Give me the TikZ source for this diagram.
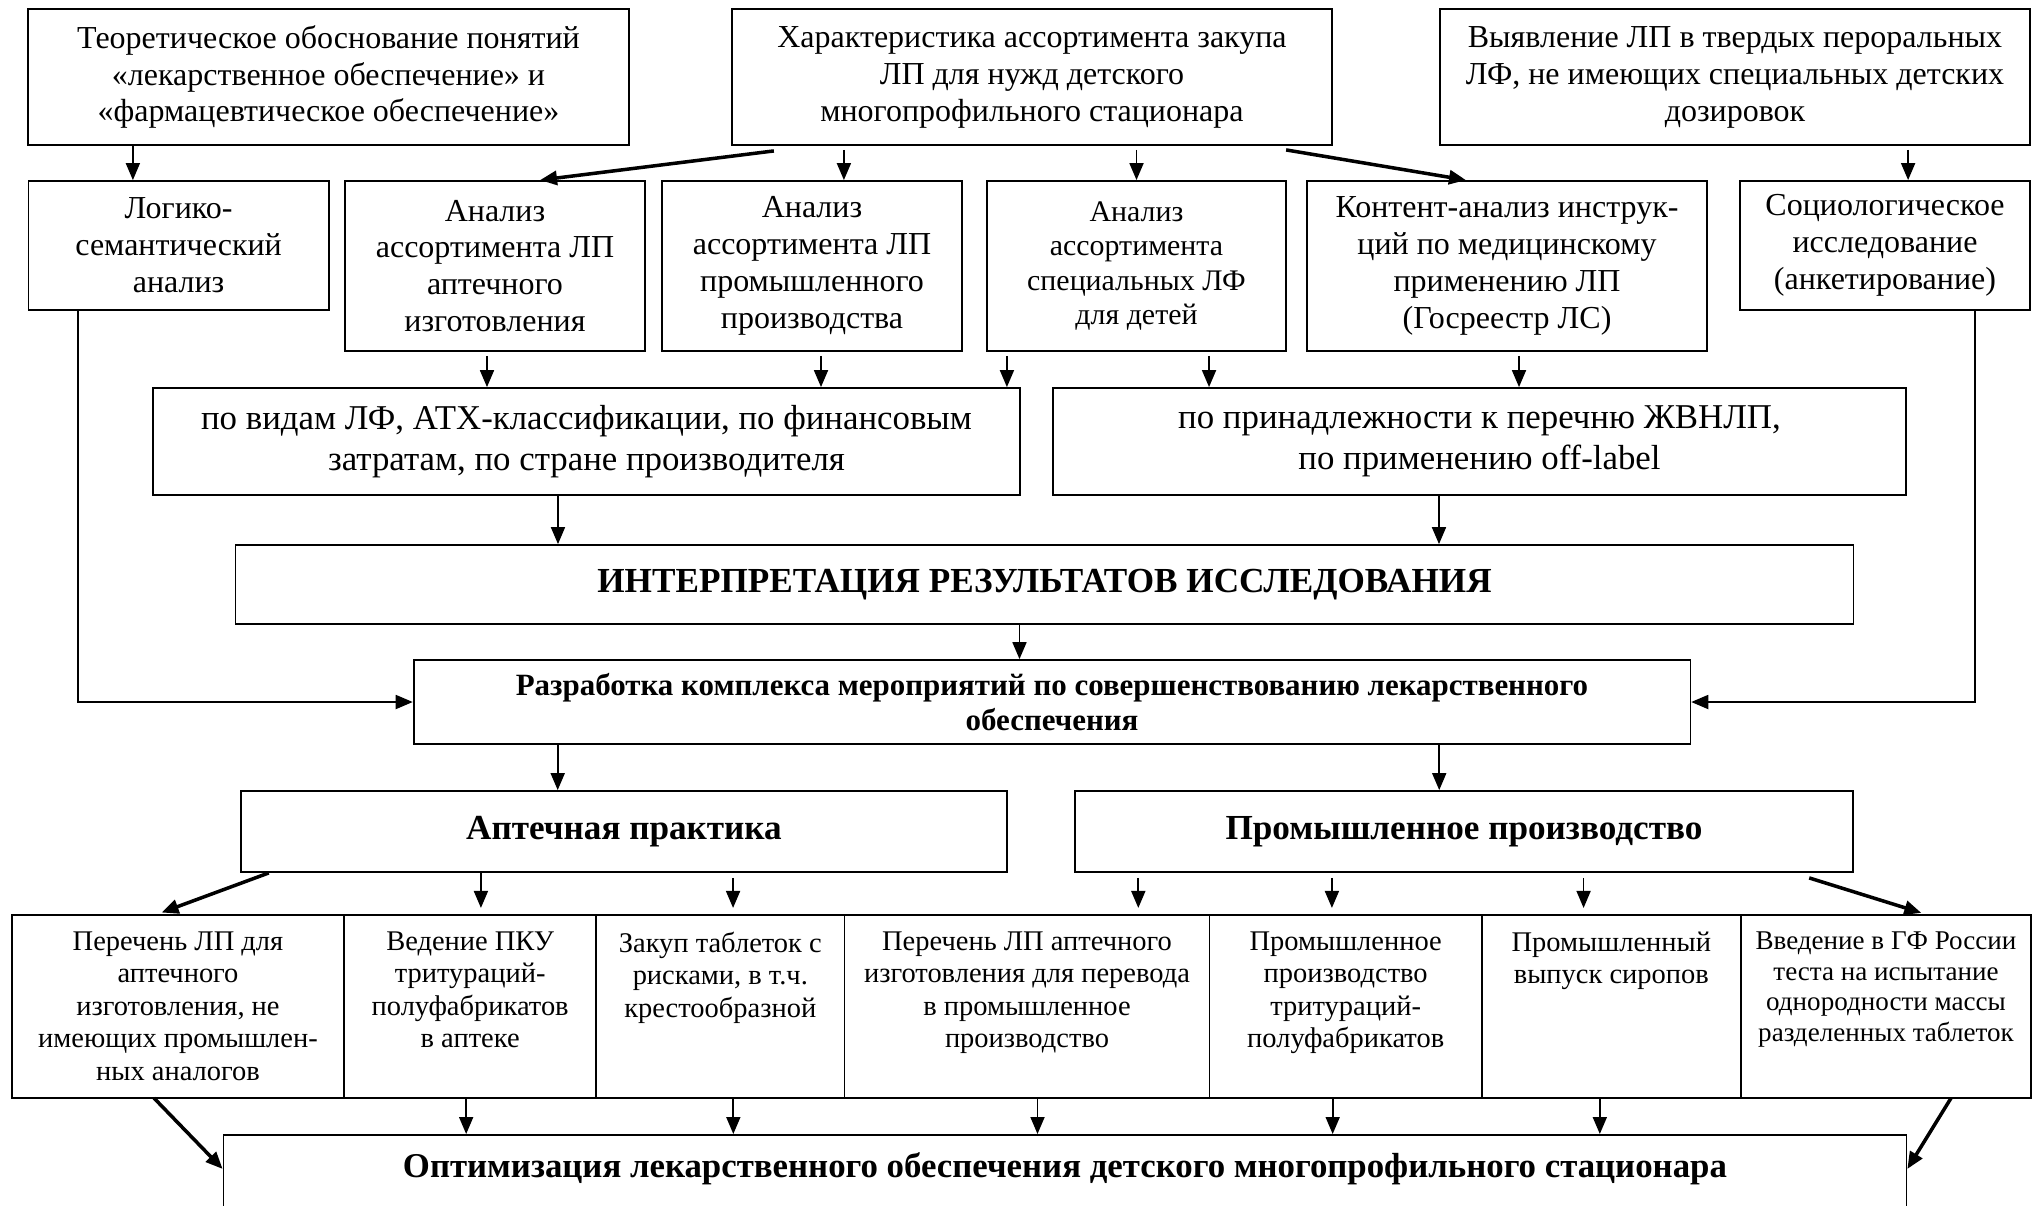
\documentclass[tikz,border=0pt]{standalone}
\usepackage{fontspec}
\setmainfont{Liberation Serif}
\usetikzlibrary{positioning, arrows.meta}

\newcommand{\tabtext}[2]{\parbox[t][1.49cm][t]{#1}{\centering #2}}

\begin{document}
\begin{tikzpicture}[
    x=0.01cm, y=-0.01cm,
    box/.style={draw, line width=0.5pt, align=center, inner sep=2pt, font=\fontsize{9.1}{10.5}\selectfont},
    smallbox/.style={box, font=\fontsize{8.5}{9.7}\selectfont},
    bigbox/.style={box, font=\fontsize{9.9}{11.5}\selectfont},
    head/.style={box, font=\fontsize{10}{11.5}\selectfont\bfseries},
    cell/.style={draw, line width=0.5pt, inner sep=0pt, outer sep=0pt, minimum height=1.83cm, font=\fontsize{8.1}{9.2}\selectfont},
    arrow/.style={-{Stealth[length=1.7mm, width=1.4mm, inset=0pt]}, line width=0.5pt},
    slant/.style={arrow, line width=1pt},
    gap/.style={shorten >=0.07cm}
  ]

  \useasboundingbox (0,0) rectangle (2033,1205);
  \fill[white] (0,0) rectangle (2033,1205);

  % верхний ряд
  \node[box, minimum width=6cm, minimum height=1.36cm] (teor) at (328.5,77) {Теоретическое обоснование понятий\\«лекарственное обеспечение» и\\«фармацевтическое обеспечение»};
  \node[box, minimum width=6cm, minimum height=1.36cm] (harakt) at (1032,77) {Характеристика ассортимента закупа\\ЛП для нужд детского\\многопрофильного стационара};
  \node[box, minimum width=5.9cm, minimum height=1.36cm] (vyyav) at (1735,77) {Выявление ЛП в твердых пероральных\\ЛФ, не имеющих специальных детских\\дозировок};

  % методы анализа
  \node[box, minimum width=3cm, minimum height=1.29cm] (logiko) at (178.6,245.5) {Логико-\\семантический\\анализ};
  \node[box, minimum width=3cm, minimum height=1.7cm] (an_apt) at (495,266) {Анализ\\ассортимента ЛП\\аптечного\\изготовления};
  \node[box, minimum width=3cm, minimum height=1.7cm] (an_prom) at (812,266) {Анализ\\ассортимента ЛП\\промышленного\\производства};
  \node[smallbox, minimum width=2.99cm, minimum height=1.7cm] (an_spec) at (1136.5,266) {Анализ\\ассортимента\\специальных ЛФ\\для детей};
  \node[box, minimum width=4cm, minimum height=1.7cm] (kontent) at (1507,266) {Контент-анализ инструк-\\ций по медицинскому\\применению ЛП\\(Госреестр ЛС)};
  \node[box, minimum width=2.9cm, minimum height=1.29cm] (socio) at (1885,245.5) {Социологическое\\исследование\\(анкетирование)};

  \node[bigbox, minimum width=8.67cm, minimum height=1.07cm] (po_vidam) at (586.5,441.5) {по видам ЛФ, АТХ-классификации, по финансовым\\затратам, по стране производителя};
  \node[bigbox, minimum width=8.53cm, minimum height=1.07cm] (po_prin) at (1479.5,441.5) {по принадлежности к перечню ЖВНЛП,\\по применению off-label};

  % итоги
  \node[head, minimum width=16.17cm, minimum height=0.79cm] (interp) at (1044.5,584.5) {ИНТЕРПРЕТАЦИЯ РЕЗУЛЬТАТОВ ИССЛЕДОВАНИЯ};
  \node[head, font=\fontsize{8.8}{10}\selectfont\bfseries, minimum width=12.76cm, minimum height=0.84cm] (razr) at (1052,702) {Разработка комплекса мероприятий по совершенствованию лекарственного\\обеспечения};
  \node[head, minimum width=7.66cm, minimum height=0.81cm] (apt) at (624,831.5) {Аптечная практика};
  \node[head, minimum width=7.78cm, minimum height=0.81cm] (prom) at (1464,831.5) {Промышленное производство};

  % мероприятия
  \node[cell, minimum width=3.32cm] (c1) at (178,1006.5) {\tabtext{3.2cm}{Перечень ЛП для\\аптечного\\изготовления, не\\имеющих промышлен-\\ных аналогов}};
  \node[cell, minimum width=2.52cm, right=0pt of c1] (c2) {\tabtext{2.45cm}{Ведение ПКУ\\тритураций-\\полуфабрикатов\\в аптеке}};
  \node[cell, minimum width=2.48cm, right=0pt of c2] (c3) {\tabtext{2.4cm}{Закуп таблеток с\\рисками, в т.ч.\\крестообразной}};
  \node[cell, minimum width=3.65cm, right=0pt of c3] (c4) {\tabtext{3.55cm}{Перечень ЛП аптечного\\изготовления для перевода\\в промышленное\\производство}};
  \node[cell, minimum width=2.72cm, right=0pt of c4] (c5) {\tabtext{2.65cm}{Промышленное\\производство\\тритураций-\\полуфабрикатов}};
  \node[cell, minimum width=2.59cm, right=0pt of c5] (c6) {\tabtext{2.5cm}{Промышленный\\выпуск сиропов}};
  \node[cell, minimum width=2.9cm, right=0pt of c6, font=\fontsize{7.7}{8.7}\selectfont] (c7) {\tabtext{2.85cm}{Введение в ГФ России\\теста на испытание\\однородности массы\\разделенных таблеток}};

  \node[head, font=\fontsize{9.9}{11.5}\selectfont\bfseries, anchor=north, minimum width=16.82cm, text height=0.36cm, text depth=0.32cm] (opt) at (1065,1134) {Оптимизация лекарственного обеспечения детского многопрофильного стационара};

  % связи верхней части
  \draw[arrow] ([xshift=-1.955cm]teor.south) -- ([xshift=-1.955cm]teor.south |- logiko.north);
  \draw[slant] ([xshift=-2.58cm, yshift=-0.05cm]harakt.south) -- ([xshift=0.45cm]an_apt.north);
  \draw[arrow] ([xshift=-1.88cm, yshift=-0.04cm]harakt.south) -- ([xshift=-1.88cm]harakt.south |- an_prom.north);
  \draw[arrow] ([yshift=-0.04cm]harakt.south -| an_spec.north) -- (an_spec.north);
  \draw[slant] ([xshift=2.54cm, yshift=-0.04cm]harakt.south) -- ([xshift=-0.41cm]kontent.north);
  \draw[arrow] ([xshift=1.73cm, yshift=-0.04cm]vyyav.south) -- ([xshift=1.73cm]vyyav.south |- socio.north);

  \draw[arrow] ([xshift=-0.08cm, yshift=-0.04cm]an_apt.south) -- ([xshift=-0.08cm]an_apt.south |- po_vidam.north);
  \draw[arrow] ([xshift=0.09cm, yshift=-0.04cm]an_prom.south) -- ([xshift=0.09cm]an_prom.south |- po_vidam.north);
  \draw[arrow] ([xshift=-1.295cm, yshift=-0.04cm]an_spec.south) -- ([xshift=-1.295cm]an_spec.south |- po_vidam.north);
  \draw[arrow] ([xshift=0.725cm, yshift=-0.04cm]an_spec.south) -- ([xshift=0.725cm]an_spec.south |- po_prin.north);
  \draw[arrow] ([xshift=0.12cm, yshift=-0.04cm]kontent.south) -- ([xshift=0.12cm]kontent.south |- po_prin.north);

  \draw[arrow] ([xshift=-0.285cm]po_vidam.south) -- ([xshift=-0.285cm]po_vidam.south |- interp.north);
  \draw[arrow] ([xshift=-0.405cm]po_prin.south) -- ([xshift=-0.405cm]po_prin.south |- interp.north);
  \draw[arrow] ([xshift=-0.25cm]interp.south) -- ([xshift=-0.25cm]interp.south |- razr.north);
  \draw[arrow] ([xshift=-1.006cm]logiko.south) |- (razr.west);
  \draw[arrow] ([xshift=0.9cm]socio.south) |- (razr.east);

  % связи нижней части
  \draw[arrow] ([xshift=-4.94cm]razr.south) -- ([xshift=-4.94cm]razr.south |- apt.north);
  \draw[arrow] ([xshift=3.87cm]razr.south) -- ([xshift=3.87cm]razr.south |- prom.north);

  \draw[slant, gap] ([xshift=-3.55cm]apt.south) -- ([xshift=-0.23cm]c1.north);
  \draw[arrow, gap] ([xshift=-1.43cm]apt.south) -- ([xshift=-1.43cm]apt.south |- c2.north);
  \draw[arrow, gap] ([xshift=1.09cm, yshift=-0.05cm]apt.south) -- ([xshift=1.09cm]apt.south |- c3.north);
  \draw[arrow, gap] ([xshift=-3.255cm, yshift=-0.05cm]prom.south) -- ([xshift=-3.255cm]prom.south |- c4.north);
  \draw[arrow, gap] ([xshift=-1.32cm, yshift=-0.05cm]prom.south) -- ([xshift=-1.32cm]prom.south |- c5.north);
  \draw[arrow, gap] ([xshift=1.195cm, yshift=-0.05cm]prom.south) -- ([xshift=1.195cm]prom.south |- c6.north);
  \draw[slant, gap] ([xshift=3.45cm, yshift=-0.05cm]prom.south) -- ([xshift=0.42cm]c7.north);

  \draw[slant] ([xshift=-0.24cm]c1.south) -- ([yshift=0.07cm]opt.west);
  \draw[arrow] ([xshift=-0.04cm]c2.south) -- ([xshift=-0.04cm]c2.south |- opt.north);
  \draw[arrow] ([xshift=0.13cm]c3.south) -- ([xshift=0.13cm]c3.south |- opt.north);
  \draw[arrow] ([xshift=0.105cm]c4.south) -- ([xshift=0.105cm]c4.south |- opt.north);
  \draw[arrow] ([xshift=-0.13cm]c5.south) -- ([xshift=-0.13cm]c5.south |- opt.north);
  \draw[arrow] ([xshift=-0.115cm]c6.south) -- ([xshift=-0.115cm]c6.south |- opt.north);
  \draw[slant] ([xshift=0.65cm]c7.south) -- ([yshift=0.07cm]opt.east);

\end{tikzpicture}
\end{document}
